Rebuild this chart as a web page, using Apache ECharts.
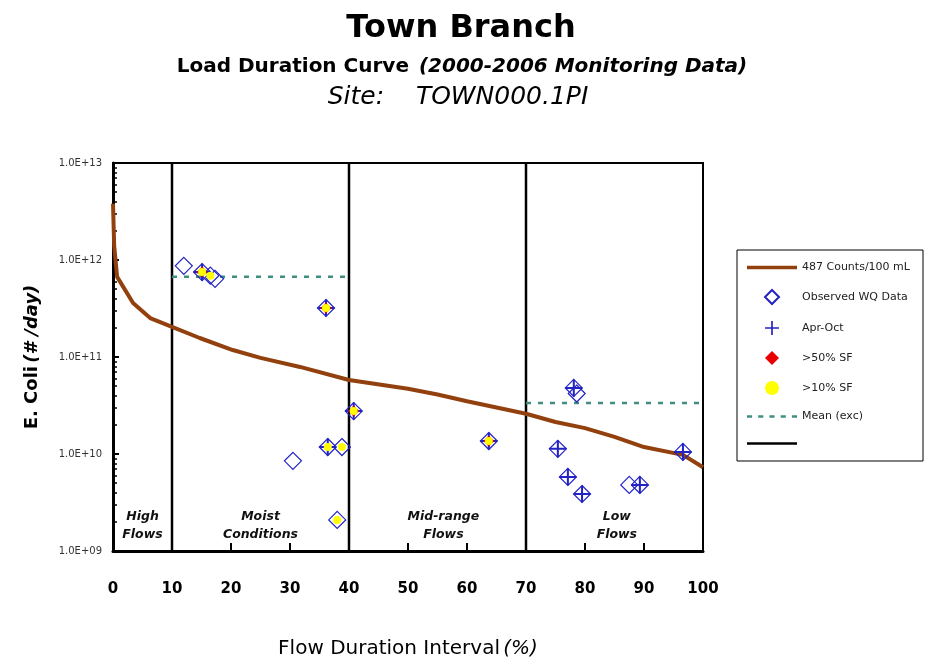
<!DOCTYPE html>
<html>
<head>
<meta charset="utf-8">
<script src="https://cdn.jsdelivr.net/npm/echarts@6/dist/echarts.min.js"></script>
<style>html,body{margin:0;padding:0;background:#fff;}#c{width:930px;height:667px;}</style>
</head>
<body>
<div id="c"></div>
<script>
// Load duration curve (487 counts/100 mL)
var curveX = [0, 0.2, 0.7, 3.4, 6.3, 10, 14.7, 20.3, 25, 31.7, 40, 50, 55, 60, 70, 75, 80, 85, 90, 96.6, 100];
var curveY = [3.8e12, 1.4e12, 6.7e11, 3.6e11, 2.52e11, 2.04e11, 1.57e11, 1.18e11, 9.8e10, 7.9e10, 5.8e10, 4.7e10, 4.1e10, 3.5e10, 2.6e10, 2.14e10, 1.85e10, 1.5e10, 1.18e10, 9.8e9, 7.3e9];
// Observed WQ data
var obsX = [12.0, 15.1, 16.5, 17.3, 30.5, 36.1, 36.4, 38.0, 38.8, 40.8, 63.7, 75.4, 77.1, 78.1, 78.6, 79.5, 87.5, 89.3, 96.6];
var obsY = [8.7e11, 7.5e11, 6.9e11, 6.4e11, 8.5e9, 3.2e11, 1.18e10, 2.09e9, 1.18e10, 2.77e10, 1.36e10, 1.13e10, 5.8e9, 4.8e10, 4.2e10, 3.87e9, 4.8e9, 4.8e9, 1.05e10];
// Apr-Oct samples
var aprX = [15.1, 36.1, 36.4, 40.8, 63.7, 75.4, 77.1, 78.1, 79.5, 89.3, 96.6];
var aprY = [7.5e11, 3.2e11, 1.18e10, 2.77e10, 1.36e10, 1.13e10, 5.8e9, 4.8e10, 3.87e9, 4.8e9, 1.05e10];
// >50% SF
var sf50X = [15.1, 36.1, 40.8, 63.7];
var sf50Y = [7.5e11, 3.2e11, 2.77e10, 1.36e10];
// >10% SF
var sf10X = [15.1, 16.5, 36.1, 36.4, 38.0, 38.8, 40.8, 63.7];
var sf10Y = [7.5e11, 6.9e11, 3.2e11, 1.18e10, 2.09e9, 1.18e10, 2.77e10, 1.36e10];
// Mean (exc) segments
var meanSegX = [[10, 40], [70, 100]];
var meanSegY = [6.7e11, 3.36e10];
// Flow zone boundaries and labels
var zoneX = [10, 40, 70];
var yRange = [1e9, 1e13];
var zoneLabels = ['High\nFlows', 'Moist\nConditions', 'Mid-range\nFlows', 'Low\nFlows'];
var zoneLabelX = [5, 25, 56, 85.4];
var zoneLabelY = 1.8e9;
var xTicks = [0, 10, 20, 30, 40, 50, 60, 70, 80, 90, 100];

function zip(xs, ys) { return xs.map(function (x, i) { return [x, ys[i]]; }); }

var FONT = '"DejaVu Sans", "Noto Sans", sans-serif';
var BLUE = '#2323c4';
var ICON_LINE = 'path://M0,0H50V3.5H0Z';
var ICON_BLACK = 'path://M0,0H50V2.5H0Z';
var ICON_DASH = 'path://M0,0H5V2.5H0Z M11,0H16V2.5H11Z M22,0H27V2.5H22Z M33,0H38V2.5H33Z M44,0H49V2.5H44Z';
var ICON_DIAMOND = 'path://M5,0L10,5L5,10L0,5Z';
var ICON_CROSS = 'path://M4.4,0H5.6V4.4H10V5.6H5.6V10H4.4V5.6H0V4.4H4.4Z';

var series = [];
series.push({
  name: '487 Counts/100 mL', type: 'line', data: zip(curveX, curveY), showSymbol: false, symbol: 'none',
  lineStyle: { color: '#93400f', width: 4 }, itemStyle: { color: '#93400f' }, z: 2, silent: true
});
zoneX.forEach(function (x) {
  series.push({
    name: ' ', type: 'line', symbol: 'none', data: [[x, yRange[0]], [x, yRange[1]]],
    lineStyle: { color: '#000', width: 2.5 }, itemStyle: { color: '#000' }, z: 1, silent: true
  });
});
meanSegX.forEach(function (seg, i) {
  series.push({
    name: 'Mean (exc)', type: 'line', symbol: 'none', data: [[seg[0], meanSegY[i]], [seg[1], meanSegY[i]]],
    lineStyle: { color: '#3f8f80', width: 2.5, type: [5, 7] }, itemStyle: { color: '#3f8f80' }, z: 2, silent: true
  });
});
series.push({
  name: 'Observed WQ Data', type: 'scatter', symbol: 'diamond', symbolSize: 17, data: zip(obsX, obsY),
  itemStyle: { color: 'rgba(255,255,255,0)', borderColor: BLUE, borderWidth: 1.2, opacity: 1 }, z: 3
});
series.push({
  name: 'Apr-Oct', type: 'scatter', symbol: ICON_CROSS, symbolSize: 17,
  data: zip(aprX, aprY), itemStyle: { color: BLUE, opacity: 1 }, z: 4
});
series.push({
  name: '>50% SF', type: 'scatter', symbol: 'diamond', symbolSize: 11, data: zip(sf50X, sf50Y),
  itemStyle: { color: '#e80000', opacity: 1 }, z: 5
});
series.push({
  name: '>10% SF', type: 'scatter', symbol: 'circle', symbolSize: 8, data: zip(sf10X, sf10Y),
  itemStyle: { color: '#ffff00', opacity: 1 }, z: 6
});
series.push({
  name: 'zones', type: 'scatter', symbolSize: 0, silent: true, itemStyle: { opacity: 1 },
  data: zoneLabels.map(function (t, i) { return { value: [zoneLabelX[i], zoneLabelY], name: t }; }),
  label: { show: true, position: 'inside', formatter: '{b}', fontFamily: FONT, fontStyle: 'italic', fontWeight: 'bold', fontSize: 12.5, lineHeight: 18, color: '#111', opacity: 1 },
  z: 7
});

var chart = echarts.init(document.getElementById('c'));
chart.setOption({
  animation: false,
  backgroundColor: '#fff',
  title: [
    { text: 'Town Branch', left: 456, top: 8, textAlign: 'center', textStyle: { fontFamily: FONT, fontWeight: 'bold', fontSize: 32, color: '#000' } },
    { text: '{b|Load Duration Curve}  {i|(2000-2006 Monitoring Data)}', left: 457, top: 52, textAlign: 'center',
      textStyle: { rich: { b: { fontFamily: FONT, fontWeight: 'bold', fontSize: 20, color: '#000' }, i: { fontFamily: FONT, fontStyle: 'italic', fontWeight: 'bold', fontSize: 20, color: '#000' } } } },
    { text: 'Site:    TOWN000.1PI', left: 453, top: 80, textAlign: 'center', textStyle: { fontFamily: FONT, fontStyle: 'italic', fontWeight: 'normal', fontSize: 25, color: '#000' } }
  ],
  grid: { left: 113, right: 227, top: 163, bottom: 116, show: true, borderColor: '#000', borderWidth: 2, backgroundColor: 'transparent' },
  legend: {
    orient: 'vertical', left: 742, top: 257, itemWidth: 50, itemHeight: 14, itemGap: 16,
    data: [
      { name: '487 Counts/100 mL', icon: ICON_LINE },
      { name: 'Observed WQ Data', icon: ICON_DIAMOND },
      { name: 'Apr-Oct', icon: ICON_CROSS },
      { name: '>50% SF', icon: ICON_DIAMOND },
      { name: '>10% SF', icon: 'circle' },
      { name: 'Mean (exc)', icon: ICON_DASH },
      { name: ' ', icon: ICON_BLACK }
    ],
    textStyle: { fontFamily: FONT, fontSize: 11, color: '#222' }, selectedMode: false
  },
  graphic: [{ type: 'rect', shape: { x: 737, y: 250, width: 186, height: 211 }, style: { fill: 'none', stroke: '#000', lineWidth: 1 }, z: -1 }],
  xAxis: {
    type: 'value', min: 0, max: 100, interval: 10,
    name: '{n|Flow Duration Interval} {i|(%)}', nameLocation: 'middle', nameGap: 88,
    nameTextStyle: { rich: { n: { fontFamily: FONT, fontSize: 20, color: '#000' }, i: { fontFamily: FONT, fontSize: 20, fontStyle: 'italic', color: '#000' } } },
    axisLine: { show: true, onZero: false, lineStyle: { color: '#000', width: 3 } },
    axisTick: { show: true, inside: true, length: 8, lineStyle: { color: '#000', width: 2 } },
    axisLabel: { margin: 31, fontFamily: FONT, fontWeight: 'bold', fontSize: 15, color: '#000', formatter: function (v) { return xTicks.indexOf(v) >= 0 ? String(v) : ''; } },
    splitLine: { show: false }
  },
  yAxis: {
    type: 'log', logBase: 10, min: 1e9, max: 1e13,
    name: '{a|E. Coli} {b|(# /day)}', nameLocation: 'middle', nameGap: 72, nameRotate: 90,
    nameTextStyle: { rich: { a: { fontFamily: FONT, fontWeight: 'bold', fontSize: 18, color: '#000' }, b: { fontFamily: FONT, fontWeight: 'bold', fontStyle: 'italic', fontSize: 18, color: '#000' } } },
    axisLine: { show: true, lineStyle: { color: '#000', width: 3 } },
    axisTick: { show: true, inside: true, length: 6, lineStyle: { color: '#000', width: 2 } },
    minorTick: { show: true, splitNumber: 9, length: 4, lineStyle: { color: '#000', width: 1.5 } },
    axisLabel: { margin: 11, fontFamily: FONT, fontSize: 10, color: '#333', formatter: function (v) {
      var e = Math.round(Math.log10(v)); return '1.0E+' + (e < 10 ? '0' + e : e); } },
    splitLine: { show: false }
  },
  series: series
});
</script>
</body>
</html>
